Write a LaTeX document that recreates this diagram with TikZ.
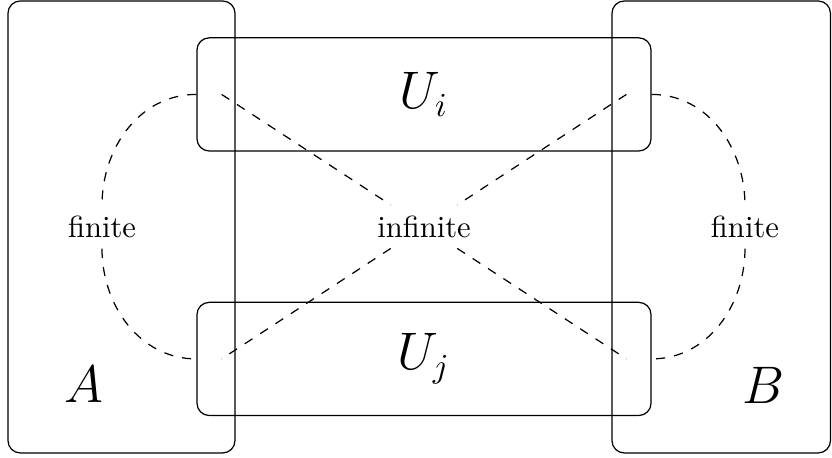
\documentclass[tikz,border=0pt]{standalone}
\usepackage{amssymb}
\usepackage{amsmath}
\usepackage{xcolor}
\usepackage{tikz}
\usetikzlibrary{positioning,calc}
\colorlet{setline}{black}
\tikzset{
  setbox/.style={
    draw=setline,
    rounded corners=4pt,
    inner sep=0pt
  },
  bigset/.style={setbox,minimum height=5.193cm},
  strip/.style={setbox,minimum width=5.217cm,minimum height=1.30cm,
                font=\fontsize{16}{19}\selectfont},
  setname/.style={font=\fontsize{16}{19}\selectfont,inner sep=0pt},
  cutlabel/.style={font=\normalsize},
  cutline/.style={dashed,setline}
}

\begin{document}
\begin{tikzpicture}[x=1cm,y=1cm]
  \useasboundingbox (0,0) rectangle (9.56,5.262);

  \node[bigset,minimum width=2.608cm] (setA) at (1.396,2.654) {};
  \node[bigset,minimum width=2.510cm] (setB) at (8.287,2.654) {};
  \node[setname] (nameA) at (0.965,0.839) {$A$};
  \node[setname] (nameB) at (8.778,0.833) {$B$};

  \node[strip] (Ui) at (4.872,4.177) {$U_i$};
  \node[strip] (Uj) at (4.872,1.138) {$U_j$};

  \coordinate (ui-in) at ([xshift=0.29cm]Ui.west);
  \coordinate (ui-out) at ([xshift=-0.29cm]Ui.east);
  \coordinate (uj-in) at ([xshift=0.29cm]Uj.west);
  \coordinate (uj-out) at ([xshift=-0.29cm]Uj.east);

  \node[cutlabel] (finA) at (1.172,2.654) {finite};
  \node[cutlabel] (finB) at (8.560,2.654) {finite};
  \node[cutlabel] (infAB) at ($(ui-in)!0.5!(uj-out)$) {infinite};

  % cuts inside A and inside B
  \draw[cutline] (Ui.west) to[out=180,in=90] (finA);
  \draw[cutline] (finA) to[out=-90,in=180] (Uj.west);
  \draw[cutline] (Ui.east) to[out=0,in=90] (finB);
  \draw[cutline] (finB) to[out=-90,in=0] (Uj.east);

  % cuts across
  \draw[cutline] (ui-in) -- (infAB) -- (uj-out);
  \draw[cutline] (ui-out) -- (infAB) -- (uj-in);
\end{tikzpicture}
\end{document}
